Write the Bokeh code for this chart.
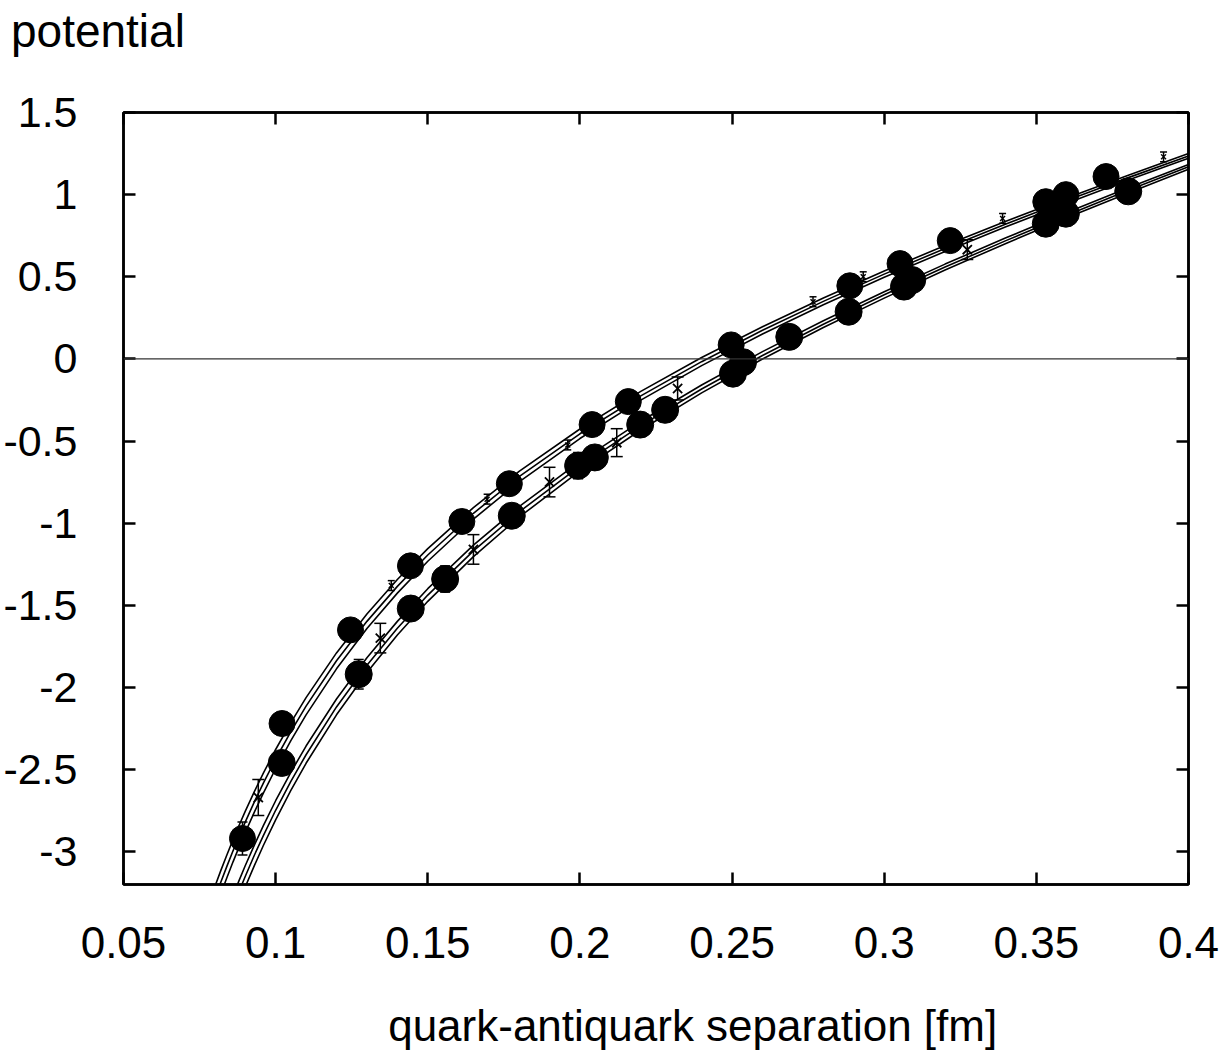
from bokeh.plotting import figure
from bokeh.models import (Range1d, LinearAxis, FixedTicker, CustomJSTickFormatter,
                          Span, ColumnDataSource, Whisker, TeeHead)
from bokeh.embed import file_html
from bokeh.resources import INLINE

# ---------------- data ----------------
x_ticks = [0.05, 0.1, 0.15, 0.2, 0.25, 0.3, 0.35, 0.4]
y_ticks = [-3, -2.5, -2, -1.5, -1, -0.5, 0, 0.5, 1, 1.5]

# sample separations for the fitted curves
r_grid = [0.076, 0.078, 0.080, 0.082, 0.084, 0.086, 0.088, 0.090, 0.093, 0.096,
          0.100, 0.105, 0.110, 0.120, 0.130, 0.140, 0.150, 0.165, 0.180, 0.200,
          0.220, 0.240, 0.260, 0.280, 0.300, 0.320, 0.340, 0.360, 0.380, 0.400]

# upper bundle (three lines)
upper_hi = [-3.428, -3.319, -3.214, -3.114, -3.019, -2.927, -2.839, -2.755, -2.635, -2.521,
            -2.378, -2.214, -2.062, -1.790, -1.553, -1.343, -1.155, -0.905, -0.685, -0.427,
            -0.198, 0.008, 0.196, 0.371, 0.535, 0.690, 0.838, 0.980, 1.117, 1.250]
upper_mid = [-3.505, -3.393, -3.287, -3.185, -3.088, -2.995, -2.905, -2.820, -2.697, -2.581,
             -2.436, -2.269, -2.114, -1.838, -1.598, -1.385, -1.194, -0.940, -0.717, -0.456,
             -0.225, -0.017, 0.174, 0.350, 0.516, 0.672, 0.821, 0.964, 1.102, 1.235]
upper_lo = [-3.581, -3.468, -3.359, -3.256, -3.157, -3.062, -2.971, -2.884, -2.759, -2.642,
            -2.494, -2.324, -2.167, -1.887, -1.642, -1.426, -1.232, -0.975, -0.749, -0.485,
            -0.251, -0.041, 0.152, 0.330, 0.497, 0.654, 0.804, 0.948, 1.087, 1.221]

# lower bundle (three lines)
lower_hi = [-3.793, -3.678, -3.568, -3.464, -3.363, -3.267, -3.175, -3.086, -2.960, -2.840,
            -2.690, -2.517, -2.357, -2.071, -1.820, -1.598, -1.399, -1.134, -0.900, -0.624,
            -0.380, -0.159, 0.044, 0.232, 0.409, 0.577, 0.737, 0.891, 1.040, 1.184]
lower_mid = [-3.869, -3.752, -3.641, -3.534, -3.432, -3.335, -3.241, -3.151, -3.022, -2.901,
             -2.748, -2.572, -2.410, -2.119, -1.865, -1.640, -1.438, -1.169, -0.932, -0.653,
             -0.406, -0.183, 0.021, 0.211, 0.390, 0.559, 0.720, 0.875, 1.025, 1.170]
lower_lo = [-3.946, -3.827, -3.713, -3.605, -3.501, -3.402, -3.307, -3.215, -3.085, -2.961,
            -2.806, -2.627, -2.462, -2.167, -1.909, -1.681, -1.476, -1.204, -0.964, -0.682,
            -0.433, -0.207, -0.001, 0.191, 0.370, 0.541, 0.703, 0.859, 1.009, 1.155]

# large filled markers, upper set
oct_up_x = [0.0891, 0.1021, 0.1246, 0.1443, 0.1612, 0.1768, 0.2040, 0.2159, 0.2497,
            0.2887, 0.3052, 0.3217, 0.3531, 0.3597, 0.3729]
oct_up_y = [-2.92, -2.22, -1.65, -1.26, -0.99, -0.76, -0.40, -0.26, 0.085,
            0.445, 0.58, 0.72, 0.957, 1.00, 1.11]
oct_up_err = [0.10, 0.06, 0.06, 0.05, 0.05, 0.05, 0.05, 0.05, 0.05,
              0.05, 0.05, 0.05, 0.05, 0.05, 0.05]

# large filled markers, lower set
oct_lo_x = [0.1020, 0.1273, 0.1444, 0.1557, 0.1776, 0.1994, 0.2049, 0.2198, 0.2280,
            0.2503, 0.2536, 0.2688, 0.2883, 0.3065, 0.3092, 0.3531, 0.3597, 0.3802]
oct_lo_y = [-2.46, -1.92, -1.52, -1.34, -0.955, -0.65, -0.60, -0.40, -0.31,
            -0.09, -0.02, 0.134, 0.287, 0.44, 0.48, 0.823, 0.884, 1.02]
oct_lo_err = [0.06, 0.09, 0.06, 0.08, 0.05, 0.08, 0.05, 0.06, 0.05,
              0.05, 0.05, 0.05, 0.05, 0.05, 0.05, 0.05, 0.05, 0.05]

# crosses with error bars
star_x = [0.0943, 0.1344, 0.1650, 0.1900, 0.2121, 0.2321, 0.3273]
star_y = [-2.67, -1.70, -1.16, -0.75, -0.51, -0.18, 0.665]
star_err = [0.11, 0.09, 0.09, 0.09, 0.085, 0.07, 0.06]

# tiny crosses on the upper bundle
tick_x = [0.1380, 0.1695, 0.1960, 0.2766, 0.2931, 0.3389, 0.3918]
tick_y = [-1.38, -0.854, -0.524, 0.348, 0.50, 0.855, 1.23]
tick_err = [0.03, 0.03, 0.03, 0.03, 0.03, 0.03, 0.03]

y_title = "potential"
x_title = "quark-antiquark separation [fm]"

FONT = "Liberation Sans"
NB = "\u00a0"

p = figure(width=1224, height=1063, output_backend="svg", toolbar_location=None,
           x_range=Range1d(0.05, 0.4), y_range=Range1d(-3.2, 1.5),
           min_border_left=120, min_border_right=36, min_border_top=112,
           min_border_bottom=179, background_fill_color="white",
           border_fill_color="white")
p.grid.visible = False
p.outline_line_color = "black"
p.outline_line_width = 2.5

fmt = CustomJSTickFormatter(code="return String(Number(tick.toFixed(2)));")
blank = CustomJSTickFormatter(code="return '';")
# the top axis carries the vertical-axis title at its first tick (left frame edge)
top_fmt = CustomJSTickFormatter(
    args=dict(lab=y_title + NB * 4),
    code="return (Math.abs(tick - 0.05) < 1e-9) ? lab : '';")

def style_axis(ax, ticks, formatter, size):
    ax.ticker = FixedTicker(ticks=ticks)
    ax.formatter = formatter
    ax.axis_line_color = "black"
    ax.axis_line_width = 2.5
    ax.major_tick_in = 12
    ax.major_tick_out = 0
    ax.major_tick_line_width = 2.5
    ax.major_tick_line_color = "black"
    ax.minor_tick_line_color = None
    ax.major_label_text_font = FONT
    ax.major_label_text_font_size = size
    ax.major_label_text_color = "black"

xa = p.xaxis[0]
style_axis(xa, x_ticks, fmt, "44px")
xa.major_label_standoff = 42
xa.axis_label = NB * 6 + x_title
xa.axis_label_text_font = FONT
xa.axis_label_text_font_size = "44px"
xa.axis_label_text_font_style = "normal"
xa.axis_label_text_color = "black"
xa.axis_label_standoff = 40

style_axis(p.yaxis[0], y_ticks, fmt, "43px")
p.yaxis[0].major_label_standoff = 46

top = LinearAxis()
style_axis(top, x_ticks, top_fmt, "46px")
top.major_label_standoff = 56
p.add_layout(top, "above")
right = LinearAxis()
style_axis(right, y_ticks, blank, "1px")
right.major_label_standoff = 0
p.add_layout(right, "right")

# zero line
p.add_layout(Span(location=0, dimension="width", line_color="#333333", line_width=1.2))

# curves
for ys in (upper_hi, upper_mid, upper_lo, lower_hi, lower_mid, lower_lo):
    p.line(r_grid, ys, line_color="black", line_width=1.6)

def add_errors(xs, ys, es, head):
    src = ColumnDataSource(dict(x=xs,
                                up=[y + e for y, e in zip(ys, es)],
                                lo=[y - e for y, e in zip(ys, es)]))
    w = Whisker(base="x", upper="up", lower="lo", source=src, dimension="height",
                line_color="black", line_width=1.5,
                upper_head=TeeHead(size=head, line_width=1.5, line_color="black"),
                lower_head=TeeHead(size=head, line_width=1.5, line_color="black"))
    p.add_layout(w)

add_errors(oct_up_x, oct_up_y, oct_up_err, 10)
add_errors(oct_lo_x, oct_lo_y, oct_lo_err, 10)
add_errors(star_x, star_y, star_err, 12)
add_errors(tick_x, tick_y, tick_err, 7)

p.scatter(oct_up_x, oct_up_y, marker="circle", size=26, fill_color="black", line_color="black")
p.scatter(oct_lo_x, oct_lo_y, marker="circle", size=27, fill_color="black", line_color="black")
p.scatter(star_x, star_y, marker="x", size=13, line_color="black", line_width=1.8)
p.scatter(tick_x, tick_y, marker="x", size=7, line_color="black", line_width=1.4)

open("out.html", "w").write(file_html(p, INLINE))
